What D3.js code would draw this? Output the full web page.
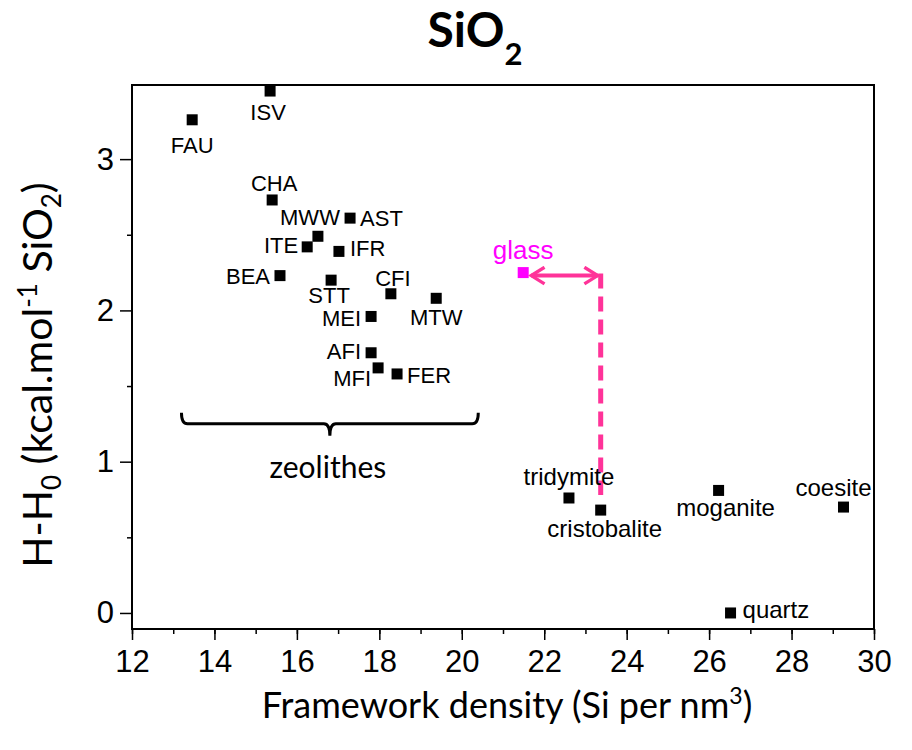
<!DOCTYPE html>
<html>
<head>
<meta charset="utf-8">
<style>
  body { margin: 0; background: #fff; }
  svg { display: block; }
</style>
</head>
<body>
<svg width="912" height="750"></svg>
<script src="https://d3js.org/d3.v7.min.js"></script>
<script>
// framework density (Si per nm3) and enthalpy above quartz (kcal/mol SiO2)
var names   = ["FAU","ISV","CHA","AST","MWW","ITE","IFR","BEA","STT","CFI","MTW","MEI","AFI","MFI","FER",
               "tridymite","cristobalite","moganite","coesite","quartz"];
var density = [13.46,15.35,15.40,17.29,16.51,16.25,17.02,15.59,16.83,18.28,19.38,17.80,17.80,17.97,18.43,
               22.60,23.37,26.23,29.26,26.52];
var enthalpy = [3.26,3.45,2.73,2.61,2.49,2.42,2.39,2.23,2.20,2.11,2.08,1.96,1.72,1.62,1.58,
                0.76,0.68,0.81,0.70,0.00];

var glass = {name: "glass", density: 21.49, enthalpy: 2.25};

var xTicks = [12,14,16,18,20,22,24,26,28,30];
var yTicks = [0,1,2,3];

// label placement: [anchor, dx, dy (baseline), font size]
var place = {
  FAU: ["middle", 0, 33, 22], ISV: ["middle", -2, 29, 22], CHA: ["middle", 2, -9, 22],
  AST: ["start", 10, 8, 22], MWW: ["end", 22, -11, 22], ITE: ["end", -9, 6, 22],
  IFR: ["start", 11, 5, 22], BEA: ["end", -10, 8, 22], STT: ["middle", -2, 23, 22],
  CFI: ["middle", 2, -8, 22], MTW: ["middle", 0, 27, 22], MEI: ["end", -10, 10, 22],
  AFI: ["end", -10, 6, 22], MFI: ["end", -7, 18, 22], FER: ["start", 10, 9, 22],
  tridymite: ["middle", 0, -13, 24], cristobalite: ["middle", 4, 27, 24],
  moganite: ["middle", 7, 26, 24], coesite: ["middle", -10, -11, 24], quartz: ["start", 12, 5, 24]
};

var svg = d3.select("svg");
var margin = {left: 132, right: 38, top: 85, bottom: 121};
var width = 912 - margin.left - margin.right,
    height = 750 - margin.top - margin.bottom;

var x = d3.scaleLinear().domain([12, 30]).range([0, width]);
var y = d3.scaleLinear().domain([-0.106, 3.49]).range([height, 0]);

var g = svg.append("g").attr("transform", "translate(" + margin.left + "," + margin.top + ")");

// frame
g.append("rect").attr("width", width).attr("height", height)
  .attr("fill", "none").attr("stroke", "#000").attr("stroke-width", 2);

function styleAxis(s) {
  s.select(".domain").remove();
  s.selectAll("line").attr("stroke-width", 1.5);
  s.selectAll("text").attr("font-size", 31).attr("fill", "#000")
    .attr("font-family", "'Liberation Sans', Arial, sans-serif");
}

// minor ticks
g.append("g").attr("transform", "translate(0," + height + ")")
  .call(d3.axisBottom(x).ticks(18).tickSize(5).tickFormat(""))
  .call(styleAxis);
g.append("g")
  .call(d3.axisLeft(y).tickValues([0.5,1.5,2.5]).tickSize(5).tickFormat(""))
  .call(styleAxis);

// major ticks
g.append("g").attr("transform", "translate(0," + height + ")")
  .call(d3.axisBottom(x).tickValues(xTicks).tickSize(11).tickPadding(10).tickFormat(d3.format("d")))
  .call(styleAxis);
g.append("g")
  .call(d3.axisLeft(y).tickValues(yTicks).tickSize(12).tickPadding(6).tickFormat(d3.format("d")))
  .call(styleAxis);

// zeolithes bracket
var bx0 = x(13.2), bx1 = x(20.4), bm = x(16.8), by = y(1.25);
g.append("path")
  .attr("d", "M" + bx0 + "," + (by - 11) + " Q" + bx0 + "," + by + " " + (bx0 + 6) + "," + by +
             " L" + (bm - 6) + "," + by + " Q" + bm + "," + by + " " + bm + "," + (by + 12) +
             " Q" + bm + "," + by + " " + (bm + 6) + "," + by +
             " L" + (bx1 - 6) + "," + by + " Q" + bx1 + "," + by + " " + bx1 + "," + (by - 11))
  .attr("fill", "none").attr("stroke", "#000").attr("stroke-width", 3);
g.append("text").attr("x", bm - 2).attr("y", by + 54)
  .attr("text-anchor", "middle").attr("font-family", "Lato, 'Open Sans', sans-serif")
  .attr("font-size", 30).text("zeolithes");

// glass -> cristobalite arrow
var pink = "#ff3399";
var cri = names.indexOf("cristobalite");
var ax0 = x(glass.density) + 8, ax1 = x(density[cri]) - 3, ay = y(glass.enthalpy) + 3;
svg.append("defs").selectAll("marker").data(["aS", "aE"]).join("marker")
  .attr("id", function(d) { return d; })
  .attr("viewBox", "0 0 12 12").attr("refX", 10).attr("refY", 6)
  .attr("markerWidth", 5).attr("markerHeight", 5)
  .attr("orient", function(d) { return d === "aS" ? "auto-start-reverse" : "auto"; })
  .append("path").attr("d", "M2,1 L10,6 L2,11").attr("fill", "none")
  .attr("stroke", pink).attr("stroke-width", 2);
g.append("line").attr("x1", ax0).attr("x2", ax1).attr("y1", ay).attr("y2", ay)
  .attr("stroke", pink).attr("stroke-width", 4)
  .attr("marker-start", "url(#aS)").attr("marker-end", "url(#aE)");
g.append("line").attr("x1", x(density[cri])).attr("x2", x(density[cri]))
  .attr("y1", ay - 2).attr("y2", y(0.78))
  .attr("stroke", pink).attr("stroke-width", 5).attr("stroke-dasharray", "15,8");

// points
var pts = names.map(function(n, i) { return {name: n, x: density[i], y: enthalpy[i]}; });
var s = 11;
g.selectAll("rect.pt").data(pts).join("rect").attr("class", "pt")
  .attr("x", function(d) { return x(d.x) - s / 2; })
  .attr("y", function(d) { return y(d.y) - s / 2; })
  .attr("width", s).attr("height", s).attr("fill", "#000");

g.selectAll("text.lab").data(pts).join("text").attr("class", "lab")
  .attr("x", function(d) { return x(d.x) + place[d.name][1]; })
  .attr("y", function(d) { return y(d.y) + place[d.name][2]; })
  .attr("text-anchor", function(d) { return place[d.name][0]; })
  .attr("font-family", "'Liberation Sans', Arial, sans-serif")
  .attr("font-size", function(d) { return place[d.name][3]; })
  .text(function(d) { return d.name; });

g.append("rect")
  .attr("x", x(glass.density) - s / 2).attr("y", y(glass.enthalpy) - s / 2)
  .attr("width", s).attr("height", s).attr("fill", "#ff00ff");
g.append("text").attr("x", x(glass.density)).attr("y", y(glass.enthalpy) - 14)
  .attr("text-anchor", "middle").attr("font-family", "'Liberation Sans', Arial, sans-serif")
  .attr("font-size", 26).attr("fill", "#ff00ff").text(glass.name);

// titles
var title = svg.append("text").attr("x", 475).attr("y", 47).attr("text-anchor", "middle")
  .attr("font-family", "Lato, 'Open Sans', sans-serif").attr("font-weight", "bold").attr("font-size", 48);
title.append("tspan").text("SiO");
title.append("tspan").attr("font-size", 31).attr("dy", 18).text("2");

var xl = svg.append("text").attr("x", 507).attr("y", 718).attr("text-anchor", "middle")
  .attr("font-family", "Lato, 'Open Sans', sans-serif").attr("font-size", 36);
xl.append("tspan").text("Framework density (Si per nm");
xl.append("tspan").attr("font-size", 23).attr("dy", -14).text("3");
xl.append("tspan").attr("dy", 14).text(")");

var yl = svg.append("text").attr("transform", "translate(52,375) rotate(-90)").attr("text-anchor", "middle")
  .attr("font-family", "Lato, 'Open Sans', sans-serif").attr("font-size", 41);
yl.append("tspan").text("H-H");
yl.append("tspan").attr("font-size", 26).attr("dy", 9).text("0");
yl.append("tspan").attr("dy", -9).text(" (kcal.mol");
yl.append("tspan").attr("font-size", 26).attr("dy", -15).text("-1");
yl.append("tspan").attr("dy", 15).text(" SiO");
yl.append("tspan").attr("font-size", 26).attr("dy", 9).text("2");
yl.append("tspan").attr("dy", -9).text(")");
</script>
</body>
</html>
